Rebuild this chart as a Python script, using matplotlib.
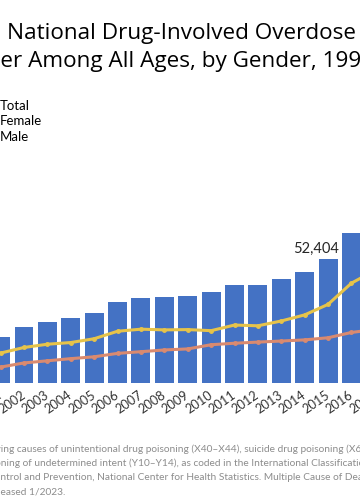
import matplotlib.pyplot as plt
from matplotlib.patches import Patch
from matplotlib.lines import Line2D

years = list(range(1999, 2018))
total = [16849, 17415, 19394, 23518, 25785, 27424, 29813, 34425, 36010, 36450,
         37004, 38329, 41340, 41502, 43982, 47055, 52404, 63632, 70237]
male = [11258, 11563, 12658, 15028, 16399, 17120, 18724, 21893, 22767, 22468,
        22593, 22134, 24518, 24200, 26231, 28812, 33263, 42249, 47600]
female = [5591, 5852, 6736, 8490, 9386, 10304, 11089, 12532, 13243, 13982,
          14411, 16195, 16822, 17302, 17751, 18243, 19141, 21383, 22637]
year_labels = [str(y) for y in years]

title_lines = [("", "National Drug-Involved Overdose Deaths*,"),
               ("Numb", "er Among All Ages, by Gender, 1999-2021")]
note_lines = [("underly", "ing causes of unintentional drug poisoning (X40\u2013X44), suicide drug poisoning (X60\u2013X64)"),
              ("poiso", "ning of undetermined intent (Y10\u2013Y14), as coded in the International Classification of Diseases"),
              ("Co", "ntrol and Prevention, National Center for Health Statistics. Multiple Cause of Death 1999-2021"),
              ("rel", "eased 1/2023.")]

plt.rcParams['font.family'] = ['Lato', 'DejaVu Sans']

W, H = 360, 504
fig = plt.figure(figsize=(W / 100, H / 100), dpi=100)
renderer = fig.canvas.get_renderer()


def clipped_text(hidden, visible, x_px, y_px, **kw):
    # put the text so that `visible` starts at x_px; `hidden` falls off the left edge
    w = 0
    if hidden:
        t = fig.text(0, 0, hidden, **kw)
        w = t.get_window_extent(renderer).width
        t.remove()
    fig.text((x_px - w) / W, 1 - y_px / H, hidden + visible, va='baseline', **kw)


# axes run past the figure edges, the picture is a crop of a wider slide
px0 = 24 - 3.5 * 23.39
px1 = 24 + 15.5 * 23.39
ymax = 80000
ax = fig.add_axes([px0 / W, (H - 383) / H, (px1 - px0) / W, ymax / 423 / H])
ax.set_xlim(1998.5, 2017.5)
ax.set_ylim(0, ymax)

blue = '#4472C4'
yellow = '#E6C34A'
orange = '#D98A70'

ax.bar(years, total, width=0.81, color=blue, zorder=1)
ax.plot(years, male, color=yellow, lw=2.2, marker='o', ms=2.5, zorder=3)
ax.plot(years, female, color=orange, lw=2.2, marker='o', ms=2.5, zorder=3)

i15 = years.index(2015)
ax.annotate(f'{total[i15]:,}', xy=(2015, total[i15]), xytext=(-12, 10),
            textcoords='offset pixels', ha='center', va='center',
            fontsize=10.5, color='#262626')

for s in ax.spines.values():
    s.set_visible(False)
ax.set_yticks([])
ax.set_xticks(years)
ax.set_xticklabels(year_labels, rotation=35, ha='right', va='center',
                   rotation_mode='anchor', fontsize=9.2, color='#333333')
ax.tick_params(axis='x', length=0, pad=8)

handles = [Patch(color=blue), Line2D([], [], color=orange, lw=2),
           Line2D([], [], color=yellow, lw=2)]
fs = 9.5
fig.legend(handles, ['Total', 'Female', 'Male'], loc='upper left',
           bbox_to_anchor=(-(2.5 * fs * 100 / 72) / W, 1 - 100 / H),
           frameon=False, fontsize=fs, borderpad=0, borderaxespad=0,
           handlelength=2, handletextpad=0.5, labelspacing=0.25)

for (hid, vis), y in zip(title_lines, [39.5, 67]):
    clipped_text(hid, vis, 7 if not hid else 0.5, y, fontsize=16.2,
                 color='black', family=['Open Sans', 'DejaVu Sans'])

for (hid, vis), y in zip(note_lines, [452.5, 466.5, 480.5, 494.5]):
    clipped_text(hid, vis, 0.5, y, fontsize=7.3, color='#8C8C8C')

fig.savefig('out.png', dpi=100)
